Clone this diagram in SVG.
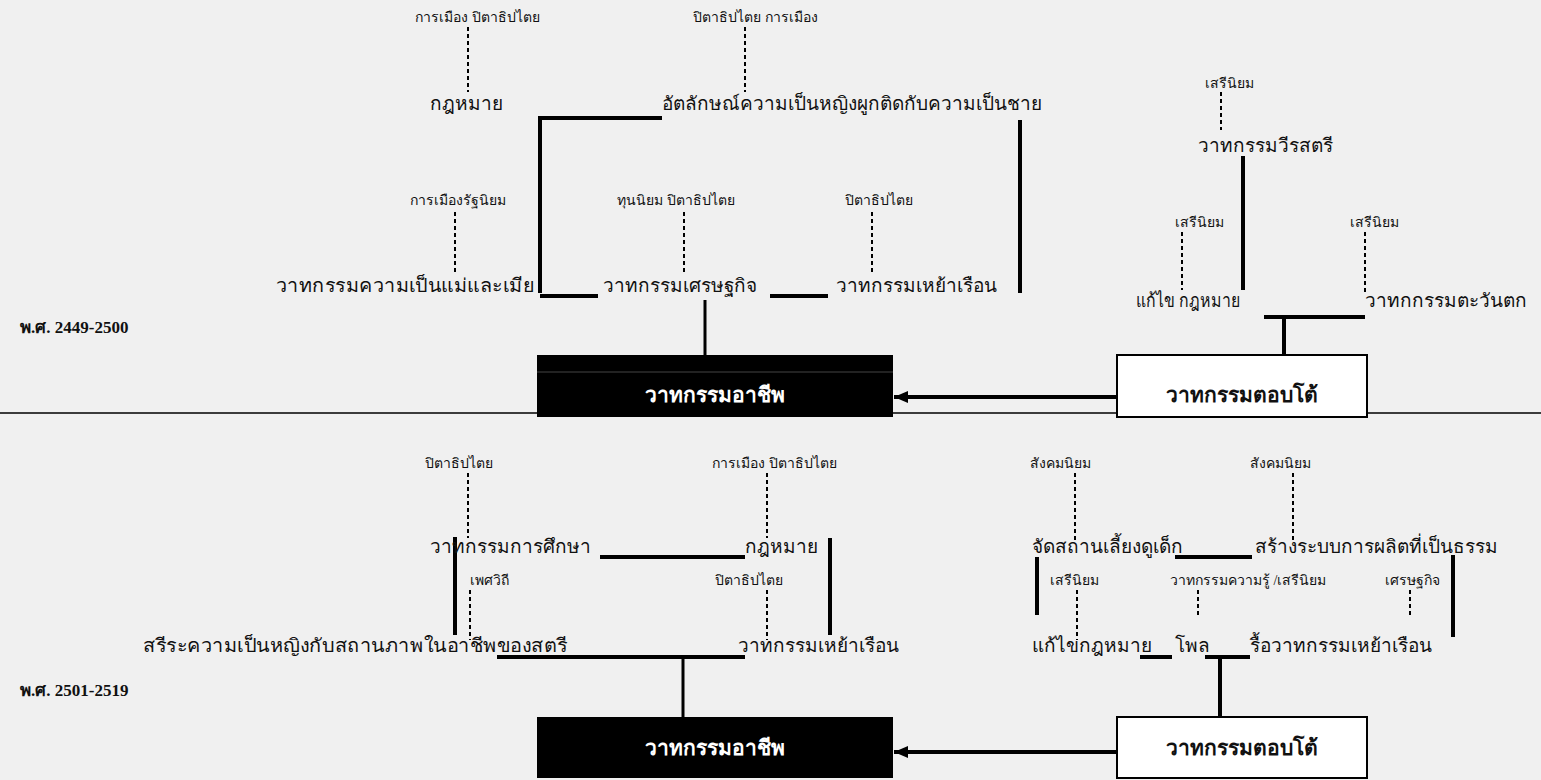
<svg xmlns="http://www.w3.org/2000/svg" width="1541" height="780" viewBox="0 0 1541 780">
<style>
text{font-family:"Liberation Serif","Noto Sans CJK SC",serif;fill:#111}
.s{font-size:14px}
.m{font-size:19px}
.b{font-size:21px;font-weight:bold}
.era{font-size:17px;font-weight:bold}
.thick{stroke:#000;stroke-width:4;fill:none}
.thin{stroke:#000;stroke-width:3;fill:none}
.dot{stroke:#000;stroke-width:2;stroke-dasharray:4 3;fill:none}
.arrow{stroke:#000;stroke-width:4;fill:none}
</style>
<defs>
<marker id="ah" markerWidth="14" markerHeight="12" refX="14" refY="6" orient="auto" markerUnits="userSpaceOnUse">
<path d="M0,0 L14,6 L0,12 z" fill="#000"/>
</marker>
</defs>
<rect width="1541" height="780" fill="#f0f0f0"/>
<line x1="0" y1="413" x2="1541" y2="413" stroke="#000" stroke-width="1.5"/>

<g id="connectors">
<path class="dot" d="M468,27V92 M745,27V92 M455,212V272 M684,212V272 M872,212V272 M1221,92V130 M1182,232V290 M1365,232V292"/>
<path class="thick" d="M662,118H540V293 M1020,120V293 M540,296H598 M770,296H828 M1243,156V290 M1264,317H1365 M1284,317V355"/>
<path class="thin" d="M705,300V355"/>
<line class="arrow" x1="1117" y1="397" x2="894" y2="397" marker-end="url(#ah)"/>
<path class="dot" d="M468,473V538 M767,473V538 M470,590V640 M767,590V640 M1075,473V540 M1293,473V540 M1077,590V640 M1198,590V615 M1410,590V615"/>
<path class="thick" d="M600,557H745 M455,537V635 M830,538V635 M497,657H745 M1175,557H1252 M1037,557V615 M1453,555V637 M1140,657H1172 M1205,657H1250 M1220,657V717"/>
<path class="thin" d="M683,657V717"/>
<line class="arrow" x1="1117" y1="752" x2="894" y2="752" marker-end="url(#ah)"/>
</g>

<g id="t-label1"><text class="s" x="415" y="22">การเมือง ปิตาธิปไตย</text></g>
<g id="t-label2"><text class="s" x="693" y="22">ปิตาธิปไตย การเมือง</text></g>
<g id="t-law"><text class="m" x="430" y="110">กฎหมาย</text></g>
<g id="t-identity"><text class="m" x="662" y="110">อัตลักษณ์ความเป็นหญิงผูกติดกับความเป็นชาย</text></g>
<g id="t-label3"><text class="s" x="410" y="205">การเมืองรัฐนิยม</text></g>
<g id="t-label4"><text class="s" x="617" y="205">ทุนนิยม ปิตาธิปไตย</text></g>
<g id="t-label5"><text class="s" x="845" y="205">ปิตาธิปไตย</text></g>
<g id="t-mother"><text class="m" x="276" y="292" textLength="258" lengthAdjust="spacingAndGlyphs">วาทกรรมความเป็นแม่และเมีย</text></g>
<g id="t-econ"><text class="m" x="603" y="292">วาทกรรมเศรษฐกิจ</text></g>
<g id="t-home"><text class="m" x="836" y="292">วาทกรรมเหย้าเรือน</text></g>
<g id="t-label6"><text class="s" x="1205" y="88">เสรีนิยม</text></g>
<g id="t-heroine"><text class="m" x="1198" y="152">วาทกรรมวีรสตรี</text></g>
<g id="t-label7"><text class="s" x="1175" y="227">เสรีนิยม</text></g>
<g id="t-label8"><text class="s" x="1350" y="227">เสรีนิยม</text></g>
<g id="t-amend"><text class="m" x="1136" y="307" textLength="104" lengthAdjust="spacingAndGlyphs">แก้ไข กฎหมาย</text></g>
<g id="t-west"><text class="m" x="1365" y="307">วาทกกรรมตะวันตก</text></g>
<g id="era1"><text class="era" x="20" y="333">พ.ศ. 2449-2500</text></g>
<g id="box-career1"><rect x="537" y="355" width="356" height="62" fill="#000"/><line x1="537" y1="372" x2="893" y2="372" stroke="#444" stroke-width="1"/><text class="b" x="715" y="402" text-anchor="middle" style="fill:#fff">วาทกรรมอาชีพ</text></g>
<g id="box-resp1"><rect x="1117" y="355" width="250" height="62" fill="#fff" stroke="#000" stroke-width="2"/><text class="b" x="1242" y="402" text-anchor="middle">วาทกรรมตอบโต้</text></g>

<g id="b-label1"><text class="s" x="425" y="468">ปิตาธิปไตย</text></g>
<g id="b-label2"><text class="s" x="712" y="468">การเมือง ปิตาธิปไตย</text></g>
<g id="b-edu"><text class="m" x="430" y="553">วาทกรรมการศึกษา</text></g>
<g id="b-law"><text class="m" x="745" y="553">กฎหมาย</text></g>
<g id="b-label3"><text class="s" x="470" y="585">เพศวิถี</text></g>
<g id="b-label4"><text class="s" x="715" y="585">ปิตาธิปไตย</text></g>
<g id="b-body"><text class="m" x="143" y="652" textLength="424" lengthAdjust="spacingAndGlyphs">สรีระความเป็นหญิงกับสถานภาพในอาชีพของสตรี</text></g>
<g id="b-home"><text class="m" x="738" y="652">วาทกรรมเหย้าเรือน</text></g>
<g id="b-label5"><text class="s" x="1030" y="468">สังคมนิยม</text></g>
<g id="b-label6"><text class="s" x="1250" y="468">สังคมนิยม</text></g>
<g id="b-child"><text class="m" x="1032" y="553">จัดสถานเลี้ยงดูเด็ก</text></g>
<g id="b-fair"><text class="m" x="1255" y="553">สร้างระบบการผลิตที่เป็นธรรม</text></g>
<g id="b-label7"><text class="s" x="1050" y="585">เสรีนิยม</text></g>
<g id="b-label8"><text class="s" x="1170" y="585">วาทกรรมความรู้ /เสรีนิยม</text></g>
<g id="b-label9"><text class="s" x="1385" y="585">เศรษฐกิจ</text></g>
<g id="b-amend"><text class="m" x="1032" y="652">แก้ไขกฎหมาย</text></g>
<g id="b-poll"><text class="m" x="1175" y="652">โพล</text></g>
<g id="b-dismantle"><text class="m" x="1250" y="652">รื้อวาทกรรมเหย้าเรือน</text></g>
<g id="era2"><text class="era" x="20" y="696">พ.ศ. 2501-2519</text></g>
<g id="box-career2"><rect x="537" y="717" width="356" height="61" fill="#000"/><text class="b" x="715" y="755" text-anchor="middle" style="fill:#fff">วาทกรรมอาชีพ</text></g>
<g id="box-resp2"><rect x="1117" y="717" width="250" height="61" fill="#fff" stroke="#000" stroke-width="2"/><text class="b" x="1242" y="755" text-anchor="middle">วาทกรรมตอบโต้</text></g>
</svg>
